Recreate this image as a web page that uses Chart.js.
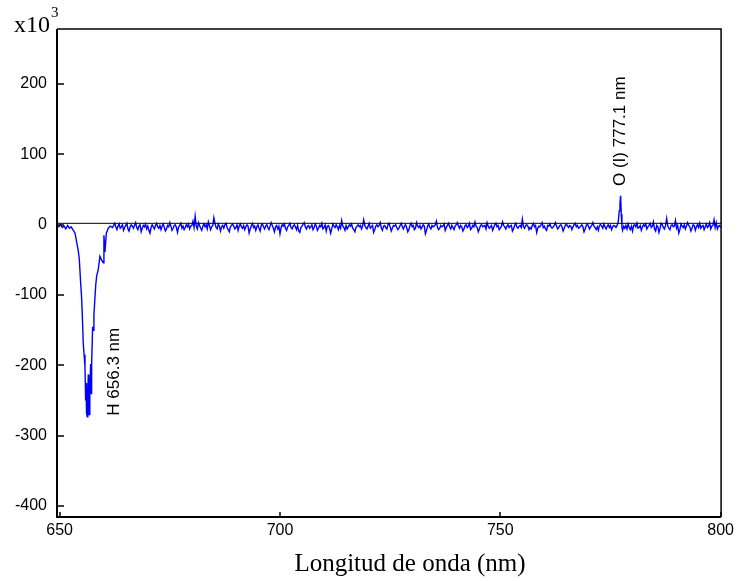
<!DOCTYPE html>
<html><head><meta charset="utf-8">
<script src="https://cdn.jsdelivr.net/npm/chart.js@4"></script>
<style>html,body{margin:0;padding:0;background:#fff}canvas{display:block}</style>
</head><body>
<canvas id="c" width="738" height="581"></canvas>
<script>
// Wavelength (nm)
const wavelength = [
649.4,649.8,650.2,650.6,651.0,651.4,651.8,652.2,652.6,653.0,653.5,653.9,654.2,654.45,654.77,654.95,655.13,655.36,655.55,655.75,
655.9,656.0,656.1,656.27,656.4,656.5,656.6,656.72,656.85,657.04,657.15,657.26,657.49,657.6,657.78,658.0,658.2,658.4,658.76,659.14,
659.5,659.9,660.05,660.28,660.6,661.03,661.5,
662,662.25,662.5,662.75,663,663.25,663.5,663.75,664,664.25,664.5,664.75,665,665.25,665.5,665.75,666,666.25,666.5,666.75,
667,667.25,667.5,667.75,668,668.25,668.5,668.75,669,669.25,669.5,669.75,670,670.25,670.5,670.75,671,671.25,671.5,671.75,
672,672.25,672.5,672.75,673,673.25,673.5,673.75,674,674.25,674.5,674.75,675,675.25,675.5,675.75,676,676.25,676.5,676.75,
677,677.25,677.5,677.75,678,678.25,678.5,678.75,679,679.25,679.5,679.75,680,680.25,680.5,680.75,681,681.25,681.5,681.75,
682,682.25,682.5,682.75,683,683.25,683.5,683.75,684,684.25,684.5,684.75,685,685.25,685.5,685.75,686,686.25,686.5,686.75,
687,687.25,687.5,687.75,688,688.25,688.5,688.75,689,689.25,689.5,689.75,690,690.25,690.5,690.75,691,691.25,691.5,691.75,
692,692.25,692.5,692.75,693,693.25,693.5,693.75,694,694.25,694.5,694.75,695,695.25,695.5,695.75,696,696.25,696.5,696.75,
697,697.25,697.5,697.75,698,698.25,698.5,698.75,699,699.25,699.5,699.75,700,700.25,700.5,700.75,701,701.25,701.5,701.75,
702,702.25,702.5,702.75,703,703.25,703.5,703.75,704,704.25,704.5,704.75,705,705.25,705.5,705.75,706,706.25,706.5,706.75,
707,707.25,707.5,707.75,708,708.25,708.5,708.75,709,709.25,709.5,709.75,710,710.25,710.5,710.75,711,711.25,711.5,711.75,
712,712.25,712.5,712.75,713,713.25,713.5,713.75,714,714.25,714.5,714.75,715,715.25,715.5,715.75,716,716.25,716.5,716.75,
717,717.25,717.5,717.75,718,718.25,718.5,718.75,719,719.25,719.5,719.75,720,720.25,720.5,720.75,721,721.25,721.5,721.75,
722,722.25,722.5,722.75,723,723.25,723.5,723.75,724,724.25,724.5,724.75,725,725.25,725.5,725.75,726,726.25,726.5,726.75,
727,727.25,727.5,727.75,728,728.25,728.5,728.75,729,729.25,729.5,729.75,730,730.25,730.5,730.75,731,731.25,731.5,731.75,
732,732.25,732.5,732.75,733,733.25,733.5,733.75,734,734.25,734.5,734.75,735,735.25,735.5,735.75,736,736.25,736.5,736.75,
737,737.25,737.5,737.75,738,738.25,738.5,738.75,739,739.25,739.5,739.75,740,740.25,740.5,740.75,741,741.25,741.5,741.75,
742,742.25,742.5,742.75,743,743.25,743.5,743.75,744,744.25,744.5,744.75,745,745.25,745.5,745.75,746,746.25,746.5,746.75,
747,747.25,747.5,747.75,748,748.25,748.5,748.75,749,749.25,749.5,749.75,750,750.25,750.5,750.75,751,751.25,751.5,751.75,
752,752.25,752.5,752.75,753,753.25,753.5,753.75,754,754.25,754.5,754.75,755,755.25,755.5,755.75,756,756.25,756.5,756.75,
757,757.25,757.5,757.75,758,758.25,758.5,758.75,759,759.25,759.5,759.75,760,760.25,760.5,760.75,761,761.25,761.5,761.75,
762,762.25,762.5,762.75,763,763.25,763.5,763.75,764,764.25,764.5,764.75,765,765.25,765.5,765.75,766,766.25,766.5,766.75,
767,767.25,767.5,767.75,768,768.25,768.5,768.75,769,769.25,769.5,769.75,770,770.25,770.5,770.75,771,771.25,771.5,771.75,
772,772.25,772.5,772.75,773,773.25,773.5,773.75,774,774.25,774.5,774.75,775,775.25,775.5,775.75,776,
776.25,776.5,776.75,777.0,777.15,777.3,777.45,777.6,777.75,778.0,778.25,778.5,778.75,
779,779.25,779.5,779.75,780,780.25,780.5,780.75,781,781.25,781.5,781.75,782,782.25,782.5,782.75,783,783.25,783.5,783.75,
784,784.25,784.5,784.75,785,785.25,785.5,785.75,786,786.25,786.5,786.75,787,787.25,787.5,787.75,788,788.25,788.5,788.75,
789,789.25,789.5,789.75,790,790.25,790.5,790.75,791,791.25,791.5,791.75,792,792.25,792.5,792.75,793,793.25,793.5,793.75,
794,794.25,794.5,794.75,795,795.25,795.5,795.75,796,796.25,796.5,796.75,797,797.25,797.5,797.75,798,798.25,798.5,798.75,
799,799.25,799.5,799.75,800
];
// Intensity (x10^3)
const intensity = [
-1,-3,0,-4,-2,-6,-1,-5,-3,-7,-12,-26,-36,-48,-83,-100,-126,-169,-185,-202,
-250,-225,-268,-273,-240,-213,-255,-270,-235,-198,-240,-198,-145,-150,-128,-105,-85,-73,-64,-45,
-50,-54,-15,-39,-12,-5,-2,
-4,-1,2,-3,-7,-2,1,-5,-3,0,-8,-4,-1,2,-6,-9,-3,0,-2,-5,
-1,3,-4,-7,-2,0,-10,-5,-1,-3,1,-6,-2,-8,-12,-4,0,-3,-6,-1,
2,-3,-5,-1,-7,-2,1,-4,-9,-6,-1,-3,3,-2,-8,-5,-1,0,-4,-11,
-3,-1,2,-5,-2,-7,-4,0,-3,1,-6,-2,-1,5,-4,12,-2,-6,3,-1,
-5,-8,-2,1,-3,0,-6,4,-1,-7,-3,-1,10,2,-4,-6,1,-2,-9,-3,
-1,-5,0,2,-4,-7,-10,-3,-1,1,-2,-6,-4,0,-8,-2,1,-3,-5,-1,
-7,-3,0,-2,-12,-6,-1,2,-4,-2,-8,-3,0,-5,-9,-1,1,-3,-6,-2,
0,-4,-7,-2,3,-1,-5,-10,-3,-1,-6,-2,-13,-4,0,-2,1,-5,-8,-3,
-1,2,-4,-6,-2,0,-3,-7,-1,-9,-11,-4,-2,1,3,-3,-6,-2,-1,-5,
-3,0,-7,-4,1,-2,-8,-5,-1,-3,2,-6,-4,0,-9,-2,-1,-5,-12,-6,
1,-2,-4,0,-3,-7,-1,-5,6,-2,-4,-8,-1,-6,-3,0,-2,1,-5,-7,
-10,-4,-2,0,-3,-1,-6,-2,7,-1,-4,-6,-2,2,-5,-3,-1,-11,-7,-2,
0,-3,-1,3,-5,-8,-2,-1,-4,-6,0,2,-3,-9,-5,-1,-2,0,-4,-7,
-5,-1,2,-3,-6,-2,0,-4,-10,-7,-1,2,-3,-1,-7,-5,3,-2,-4,-1,
-6,-3,0,-2,-13,-8,-2,1,-4,-6,-1,-3,-2,0,5,-4,-7,-5,-1,-3,
-2,1,-8,-4,-1,2,-3,-6,-1,-4,-7,-2,0,3,-2,-5,-1,-3,-9,-6,
-1,0,-4,-2,2,-7,-5,-1,-3,4,-2,-4,-10,-6,-1,0,-3,-2,-1,-6,
3,-2,-5,-3,-1,-8,-4,0,2,-3,-1,-7,-5,-2,4,-1,-3,-6,-2,0,
-4,-2,-1,-9,-6,-1,2,-3,-5,-2,-1,-4,8,-3,-5,-1,0,-2,-7,-4,
-6,-1,2,-3,-1,-11,-5,-2,-3,0,3,-4,-2,-6,-8,-1,-2,1,-3,-5,
-3,-1,3,-2,-6,-4,-1,0,-3,-9,-5,-1,1,-2,-4,-1,-2,-7,-3,0,
2,-3,-1,-5,-4,-2,0,-3,-10,-6,-1,1,-2,-6,-3,-1,3,-2,-4,-7,
-3,-8,-1,0,-2,-5,1,-3,-6,-2,0,-4,-1,-7,-3,-1,-2,
-4,-1,3,20,30,41,15,-3,-8,-2,-5,-1,-6,
1,-4,-7,-2,-9,-1,0,-3,2,-5,-4,-1,-8,-3,0,-2,1,-6,-3,-1,
2,-4,-2,4,-6,-9,-1,-3,-11,-5,2,0,-4,-6,-1,9,-2,-5,-7,-1,
0,-3,-2,6,-5,-1,-12,-7,1,-2,-4,0,-6,-2,3,-1,-3,-9,-5,0,
-1,-8,-3,0,-4,2,-5,-2,-1,-7,-3,1,-4,-2,3,-6,-2,-1,7,-4,
3,-6,-2,-1,-4
];
const baselineLevel = [2, 2];
const xTicks = [650, 700, 750, 800];
const yTicks = [-400, -300, -200, -100, 0, 100, 200];
const peakNames = ['H 656.3 nm', 'O (I) 777.1 nm'];
const peakLabelX = [662.5, 777.3];
const peakLabelY = [-209, 133];

const X_MIN = 649.4, X_MAX = 800.1, Y_MIN = -415.6, Y_MAX = 278.3;
const SANS = "'Liberation Sans', Arial, sans-serif";
const SERIF = "'Liberation Serif', 'Times New Roman', serif";

const decor = {
  id: 'decor',
  afterDatasetsDraw(chart) {
    const {ctx, chartArea: a, scales: {x, y}} = chart;
    ctx.save();
    ctx.strokeStyle = '#000';
    ctx.lineWidth = 1.5;
    ctx.beginPath();
    ctx.moveTo(a.left, a.top); ctx.lineTo(a.right, a.top); ctx.lineTo(a.right, a.bottom);
    ctx.stroke();
    ctx.lineWidth = 2;
    ctx.beginPath();
    ctx.moveTo(a.left, a.top); ctx.lineTo(a.left, a.bottom); ctx.lineTo(a.right, a.bottom);
    ctx.stroke();
    ctx.lineWidth = 1.5;
    ctx.beginPath();
    yTicks.forEach(v => { const py = Math.round(y.getPixelForValue(v)); ctx.moveTo(a.left, py); ctx.lineTo(a.left + 7, py); });
    xTicks.forEach(v => { const px = Math.round(x.getPixelForValue(v)); ctx.moveTo(px, a.bottom); ctx.lineTo(px, a.bottom - 5); });
    ctx.stroke();
    ctx.restore();
  },
  afterDraw(chart) {
    const {ctx, scales: {x, y}} = chart;
    ctx.save();
    ctx.fillStyle = '#000';
    ctx.font = '24px ' + SERIF;
    ctx.textAlign = 'left'; ctx.textBaseline = 'alphabetic';
    ctx.fillText('x10', 14, 32);
    const w = ctx.measureText('x10').width;
    ctx.font = '15px ' + SERIF;
    ctx.fillText('3', 14 + w + 1, 17);
    ctx.font = '25px ' + SERIF;
    ctx.textAlign = 'center';
    ctx.fillText('Longitud de onda (nm)', 410, 571);
    ctx.font = '17px ' + SANS;
    ctx.textBaseline = 'middle';
    peakNames.forEach((t, i) => {
      ctx.save();
      ctx.translate(x.getPixelForValue(peakLabelX[i]), y.getPixelForValue(peakLabelY[i]));
      ctx.rotate(-Math.PI / 2);
      ctx.fillText(t, 0, 0);
      ctx.restore();
    });
    ctx.restore();
  }
};

const n = Math.min(wavelength.length, intensity.length);
const spectrum = [];
for (let i = 0; i < n; i++) spectrum.push({x: wavelength[i], y: intensity[i]});

new Chart(document.getElementById('c'), {
  type: 'line',
  data: {
    datasets: [
      {
        label: 'baseline',
        data: [{x: X_MIN, y: baselineLevel[0]}, {x: X_MAX, y: baselineLevel[1]}],
        borderColor: '#000', borderWidth: 1, pointRadius: 0, order: 0
      },
      {
        label: 'spectrum',
        data: spectrum,
        borderColor: '#0000ff', borderWidth: 1.4, pointRadius: 0, tension: 0, order: 1
      }
    ]
  },
  options: {
    responsive: false, animation: false, devicePixelRatio: 1,
    layout: {padding: {top: 29, right: 16, left: 0, bottom: 0}},
    plugins: {legend: {display: false}, tooltip: {enabled: false}, title: {display: false}},
    scales: {
      x: {
        type: 'linear', min: X_MIN, max: X_MAX,
        grid: {display: false, drawTicks: false}, border: {display: false},
        afterBuildTicks: s => { s.ticks = xTicks.map(v => ({value: v})); },
        ticks: {color: '#000', font: {family: SANS, size: 16}, padding: 4, maxRotation: 0, autoSkip: false},
        afterFit: s => { s.height = 64; }
      },
      y: {
        type: 'linear', min: Y_MIN, max: Y_MAX,
        grid: {display: false, drawTicks: false}, border: {display: false},
        afterBuildTicks: s => { s.ticks = yTicks.map(v => ({value: v})); },
        ticks: {color: '#000', font: {family: SANS, size: 16}, padding: 10, autoSkip: false},
        afterFit: s => { s.width = 57; }
      }
    }
  },
  plugins: [decor]
});
</script>
</body></html>
